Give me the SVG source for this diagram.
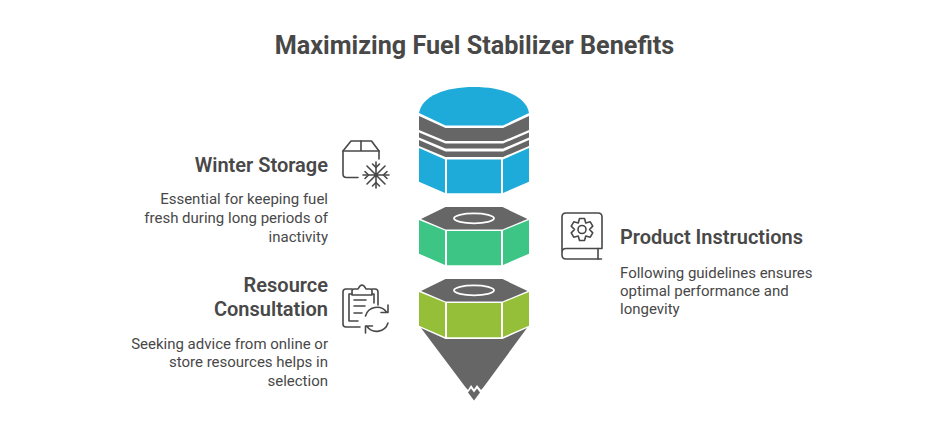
<svg xmlns="http://www.w3.org/2000/svg" width="931" height="425" viewBox="0 0 931 425">
<style>
text{font-family:Roboto,"Liberation Sans",sans-serif;fill:#484848}
.t{font-size:25.2px;font-weight:700;text-anchor:middle}
.h{font-size:20px;font-weight:600}
.d{font-size:15px}
.e{text-anchor:end}
.g{fill:#666}
.b{fill:#1eabda}
.gr{fill:#3dc585}
.o{fill:#95be39}
.r{fill:none;stroke:#fff;stroke-width:1.8}
.i{fill:none;stroke:#484848;stroke-width:1.6;stroke-linecap:round;stroke-linejoin:round}
</style>
<rect width="931" height="425" fill="#fff"/>
<text class="t" x="474.5" y="54">Maximizing Fuel Stabilizer Benefits</text>
<g id="funnel-stack">
<g id="blue-section">
<path class="b" d="M419 113C422 96 445 87 474 87S526 96 529 113L503 125.500H445.500Z"/>
<path class="g" d="M419 116L445.500 128H503L529 116V130L503 141H445.500L419 130Z"/>
<path class="g" d="M419 132.500L445.500 143.500H503L529 132.500V137.500L503 148.500H445.500L419 137.500Z"/>
<path class="g" d="M419 140L445.500 151.500H503L529 140V146L503 157H445.500L419 146Z"/>
<path class="b" d="M419 148L445 159.500V193L419 181.700Z"/>
<path class="b" d="M447 159.500H501V193.300H447Z"/>
<path class="b" d="M529 148L503 159.500V193L529 181.700Z"/>
</g>
<g id="green-section">
<path class="g" d="M445.500 207H502.500L527.500 219L502.500 229.500H445.500L421 219Z"/>
<ellipse class="r" cx="474" cy="218.300" rx="20" ry="5"/>
<path class="gr" d="M419 220L445 230.500V265L419 253.700Z"/>
<path class="gr" d="M447 231H501V265.300H447Z"/>
<path class="gr" d="M529 220L503 230.500V265L529 253.700Z"/>
</g>
<g id="olive-section">
<path class="g" d="M445.500 279H502.500L527.500 291L502.500 301.500H445.500L421 291Z"/>
<ellipse class="r" cx="474" cy="290.300" rx="20" ry="5"/>
<path class="o" d="M419 292L445 302.500V337L419 325.700Z"/>
<path class="o" d="M447 303H501V337.300H447Z"/>
<path class="o" d="M529 292L503 302.500V337L529 325.700Z"/>
</g>
<g id="funnel-tip">
<path class="g" d="M421 328L445.500 339H502.500L527 328L483.300 387.500L481 390L477 385L474 389.300L471 385L468 390L465.700 387.500Z"/>
<path class="g" d="M468 392.500L471 388.500L474 392.500L477 388.500L480 392.500L474 400.500Z"/>
</g>
</g>
<g id="winter-storage">
<text class="h e" x="328" y="172">Winter Storage</text>
<text class="d e" x="328" y="204">Essential for keeping fuel</text>
<text class="d e" x="328" y="223">fresh during long periods of</text>
<text class="d e" x="328" y="242">inactivity</text>
<g class="i">
<path d="M358 177.500H346.500Q343 177.500 343 174V151L351 141H371.500L379 151V159"/>
<path d="M343 151H379M361 141V151"/>
<path d="M376 162V188M363 175H389M367 166L385 184M385 166L367 184"/>
<path d="M372.500 164L376 167.500L379.500 164M372.500 186L376 182.500L379.500 186M365 171.500L368.500 175L365 178.500M387 171.500L383.500 175L387 178.500"/>
</g>
</g>
<g id="product-instructions">
<text class="h" x="620" y="244">Product Instructions</text>
<text class="d" x="620" y="278">Following guidelines ensures</text>
<text class="d" x="620" y="296">optimal performance and</text>
<text class="d" x="620" y="314">longevity</text>
<g class="i">
<path d="M562 253V217Q562 213 566 213H598Q602 213 602 217V248.500H566Q562 248.500 562 252.500V255Q562 259 566 259H601.500"/>
<path d="M598 248.500V259"/>
<path d="M579.500 218.500H584.500L585.750 223L590.250 221.830L592.750 226.170L589.500 229.500L592.750 232.830L590.250 237.170L585.750 236L584.500 240.500H579.500L578.250 236L573.750 237.170L571.250 232.830L574.500 229.500L571.250 226.170L573.750 221.830L578.250 223Z"/>
<circle cx="582" cy="229.500" r="4"/>
</g>
</g>
<g id="resource-consultation">
<text class="h e" x="328" y="292">Resource</text>
<text class="h e" x="328" y="316">Consultation</text>
<text class="d e" x="328" y="349">Seeking advice from online or</text>
<text class="d e" x="328" y="367">store resources helps in</text>
<text class="d e" x="328" y="386">selection</text>
<g class="i">
<path d="M352 289H346Q343 289 343 292V324Q343 327 346 327H360"/>
<path d="M352 294H349V321H358"/>
<path d="M372 289H375Q378 289 378 292V305M372 294H374V303"/>
<path d="M352 295V291Q352 289 354 289H358Q360 285 362 285T366 289H370Q372 289 372 291V295Z"/>
<path d="M354 300H366M354 306H365M354 313H362"/>
<path d="M365.500 316A12 12 0 0 1 386.500 312M388 305V312.500H381"/>
<path d="M388 323A12 12 0 0 1 367 326.500M365.500 333V326H372.500"/>
</g>
</g>
</svg>
